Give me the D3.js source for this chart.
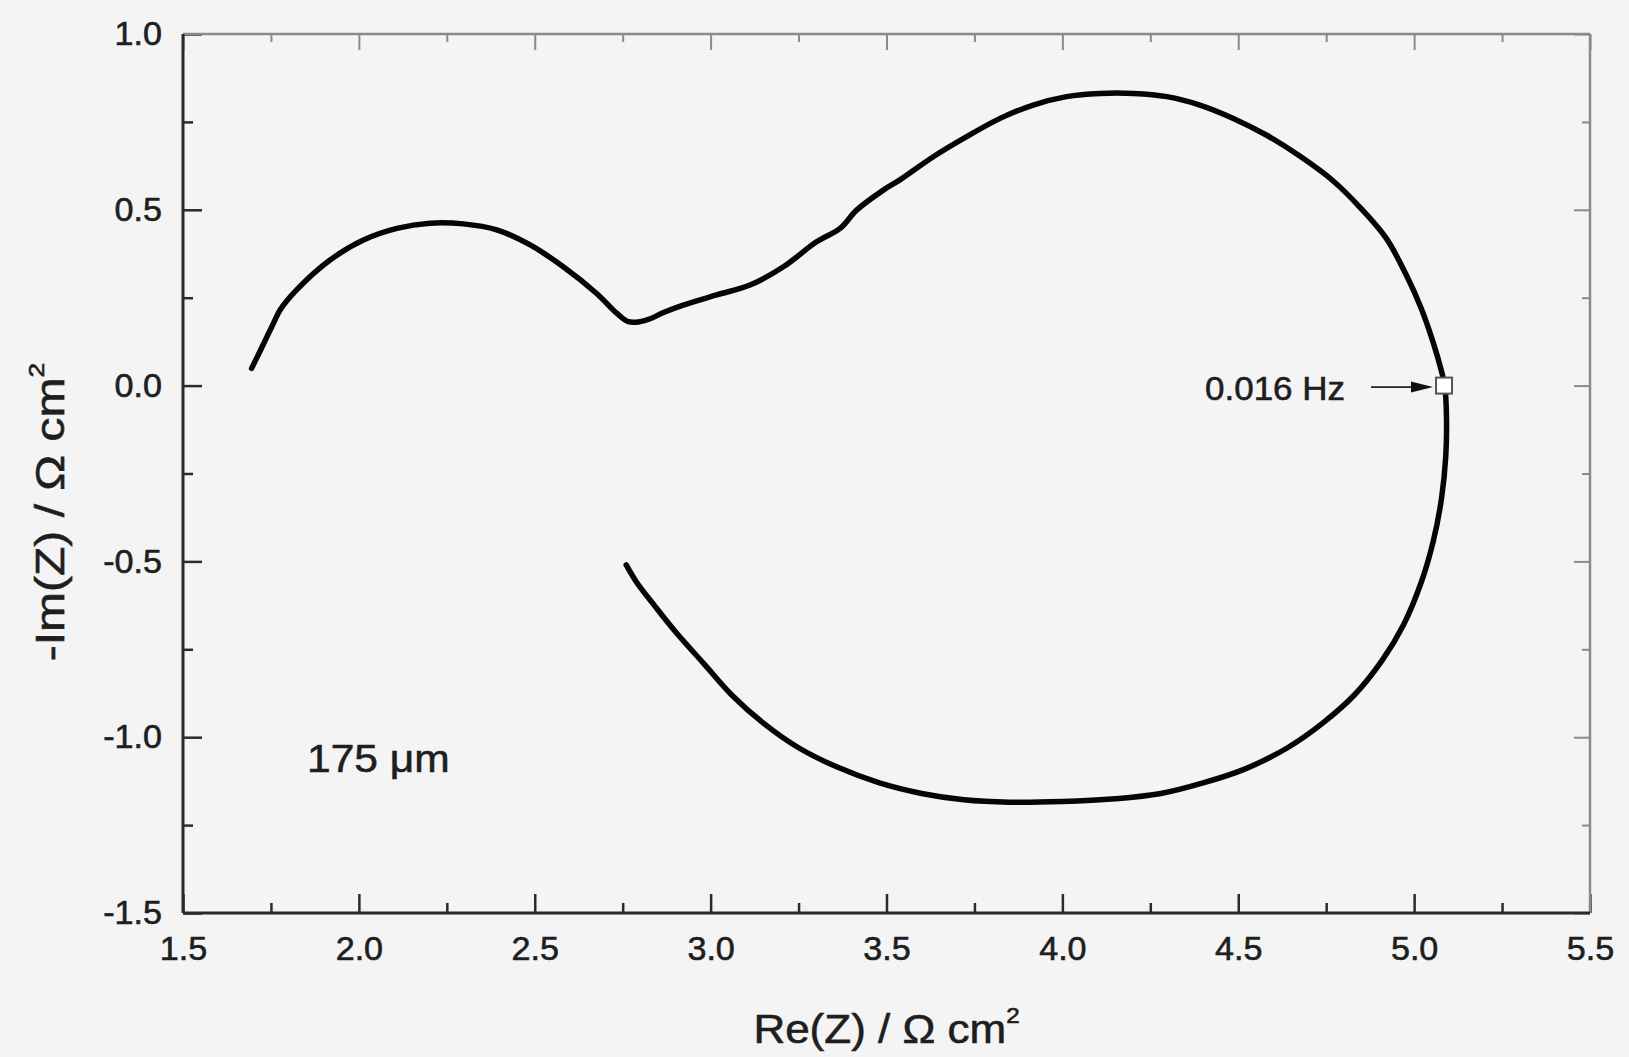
<!DOCTYPE html>
<html><head><meta charset="utf-8">
<script src="https://cdn.jsdelivr.net/npm/d3@7"></script>
<style>
html,body{margin:0;padding:0;background:#f4f4f4;}
svg{display:block;}
text{font-family:"Liberation Sans", Arial, Helvetica, sans-serif; fill:#1e1e1e;}
</style></head><body>
<svg id="chart" width="1629" height="1057"></svg>
<script>
// ---- data (Nyquist spectrum, 175 µm) ----
const reZ = [1.695,1.72,1.757,1.776,1.823,1.918,2.013,2.108,2.202,2.297,2.392,2.487,2.581,2.676,2.733,2.766,2.80,2.828,2.866,2.922,3.017,3.112,3.207,3.301,3.368,3.415,3.491,3.538,3.633,3.728,3.823,3.917,4.012,4.107,4.202,4.297,4.391,4.486,4.581,4.676,4.770,4.848,4.92,4.975,5.02,5.055,5.078,5.087,5.092,5.09,5.078,5.055,5.02,4.97,4.91,4.83,4.74,4.64,4.52,4.40,4.28,4.15,4.00,3.85,3.72,3.60,3.48,3.36,3.25,3.15,3.06,2.98,2.90,2.84,2.79,2.76];
const negImZ = [0.049,0.10,0.177,0.215,0.272,0.357,0.414,0.447,0.462,0.460,0.443,0.400,0.338,0.262,0.206,0.182,0.182,0.190,0.208,0.229,0.258,0.286,0.338,0.409,0.447,0.499,0.556,0.585,0.651,0.708,0.760,0.798,0.822,0.831,0.831,0.822,0.798,0.760,0.712,0.652,0.582,0.505,0.42,0.32,0.22,0.12,0.04,0.0,-0.09,-0.20,-0.32,-0.44,-0.56,-0.68,-0.78,-0.88,-0.96,-1.03,-1.09,-1.13,-1.16,-1.175,-1.183,-1.185,-1.178,-1.16,-1.13,-1.085,-1.03,-0.96,-0.88,-0.79,-0.70,-0.625,-0.56,-0.51];

const xMajor = [1.5,2.0,2.5,3.0,3.5,4.0,4.5,5.0,5.5];
const xMinor = [1.75,2.25,2.75,3.25,3.75,4.25,4.75,5.25];
const xTickLabels = ["1.5","2.0","2.5","3.0","3.5","4.0","4.5","5.0","5.5"];
const yMajor = [-1.5,-1.0,-0.5,0.0,0.5,1.0];
const yMinor = [-1.25,-0.75,-0.25,0.25,0.75];
const yTickLabels = ["-1.5","-1.0","-0.5","0.0","0.5","1.0"];

const markerRe = [5.085];
const markerIm = [0.0];
const markerLabel = "0.016 Hz";
const sampleLabel = "175 \u03BCm";
const xTitle = "Re(Z) / \u03A9 cm";
const yTitle = "-Im(Z) / \u03A9 cm";

// ---- layout ----
const W = 1629, H = 1057;
const L = 183, R = 1590, T = 34, B = 913;
const svg = d3.select("#chart");
svg.append("rect").attr("width",W).attr("height",H).attr("fill","#f4f4f4");

const x = d3.scaleLinear().domain([1.5,5.5]).range([L,R]);
const y = d3.scaleLinear().domain([-1.5,1.0]).range([B,T]);

const dark = "#2b2b2b", light = "#8a8a8a";
const tickFont = 32.5, tickSX = 1.05;
const txtCol = "#1e1e1e";

function styleAxis(g, col, w){
  g.select(".domain").remove();
  g.selectAll(".tick line").attr("stroke",col).attr("stroke-width",w);
}
function heavy(sel){ sel.attr("stroke",txtCol).attr("stroke-width",0.6); }

// bottom axis
const gb = svg.append("g").attr("transform",`translate(0,${B})`)
  .call(d3.axisBottom(x).tickValues(xMajor).tickSize(-19).tickPadding(24)
     .tickFormat((d,i)=>xTickLabels[i]));
styleAxis(gb, dark, 2.5);
gb.selectAll("text").attr("font-size",tickFont).attr("fill",txtCol)
  .attr("font-family","Liberation Sans, Arial, sans-serif")
  .attr("transform",`scale(${tickSX},1)`).call(heavy);
const gbm = svg.append("g").attr("transform",`translate(0,${B})`)
  .call(d3.axisBottom(x).tickValues(xMinor).tickSize(-10).tickFormat(""));
styleAxis(gbm, dark, 2.5);

// left axis
const gl = svg.append("g").attr("transform",`translate(${L},0)`)
  .call(d3.axisLeft(y).tickValues(yMajor).tickSize(-19).tickPadding(21/tickSX)
     .tickFormat(d=>yTickLabels[yMajor.indexOf(d)]));
styleAxis(gl, dark, 2.5);
gl.selectAll("text").attr("font-size",tickFont).attr("fill",txtCol)
  .attr("font-family","Liberation Sans, Arial, sans-serif")
  .attr("dy","0.33em")
  .attr("transform",`scale(${tickSX},1)`).call(heavy);
const glm = svg.append("g").attr("transform",`translate(${L},0)`)
  .call(d3.axisLeft(y).tickValues(yMinor).tickSize(-10).tickFormat(""));
styleAxis(glm, dark, 2.5);

// top axis (no labels)
const gt = svg.append("g").attr("transform",`translate(0,${T})`)
  .call(d3.axisTop(x).tickValues(xMajor).tickSize(-16).tickFormat(""));
styleAxis(gt, light, 2);
const gtm = svg.append("g").attr("transform",`translate(0,${T})`)
  .call(d3.axisTop(x).tickValues(xMinor).tickSize(-8).tickFormat(""));
styleAxis(gtm, light, 2);

// right axis (no labels)
const gr = svg.append("g").attr("transform",`translate(${R},0)`)
  .call(d3.axisRight(y).tickValues(yMajor).tickSize(-16).tickFormat(""));
styleAxis(gr, light, 2);
const grm = svg.append("g").attr("transform",`translate(${R},0)`)
  .call(d3.axisRight(y).tickValues(yMinor).tickSize(-8).tickFormat(""));
styleAxis(grm, light, 2);

// frame
svg.append("line").attr("x1",L).attr("x2",R).attr("y1",T).attr("y2",T).attr("stroke",light).attr("stroke-width",2.5);
svg.append("line").attr("x1",R).attr("x2",R).attr("y1",T).attr("y2",B).attr("stroke",light).attr("stroke-width",2.5);
svg.append("line").attr("x1",L).attr("x2",R).attr("y1",B).attr("y2",B).attr("stroke",dark).attr("stroke-width",3);
svg.append("line").attr("x1",L).attr("x2",L).attr("y1",T).attr("y2",B).attr("stroke",dark).attr("stroke-width",3);

// curve
const pts = reZ.map((d,i)=>[d,negImZ[i]]);
const line = d3.line().x(d=>x(d[0])).y(d=>y(d[1])).curve(d3.curveCatmullRom.alpha(0.5));
svg.append("path").datum(pts).attr("d",line)
  .attr("fill","none").attr("stroke","#050505").attr("stroke-width",5.5)
  .attr("stroke-linejoin","round").attr("stroke-linecap","round");

// marker square
const ms = 16;
svg.selectAll("rect.marker").data(markerRe).enter().append("rect").attr("class","marker")
  .attr("x",(d)=>x(d)-ms/2).attr("y",(d,i)=>y(markerIm[i])-ms/2)
  .attr("width",ms).attr("height",ms)
  .attr("fill","#ffffff").attr("stroke","#555").attr("stroke-width",2);

// arrow
const ay = y(markerIm[0]) + 1.5;
const tipX = x(markerRe[0]) - ms/2 - 3;
svg.append("line").attr("x1",tipX-62).attr("x2",tipX-18).attr("y1",ay).attr("y2",ay)
  .attr("stroke","#222").attr("stroke-width",1.6);
svg.append("path").attr("d",`M${tipX},${ay} L${tipX-22},${ay-5.5} L${tipX-22},${ay+5.5} Z`).attr("fill","#111");

// marker label
svg.append("text").attr("text-anchor","end").attr("font-size",33)
  .attr("transform",`translate(${tipX-88},${ay+13}) scale(1.06,1)`)
  .text(markerLabel).call(heavy);

// sample label
svg.append("text").attr("font-size",39)
  .attr("transform",`translate(307,772) scale(1.09,1)`)
  .text(sampleLabel).call(heavy);

// x title
const xt = svg.append("text").attr("text-anchor","middle").attr("font-size",40)
  .attr("transform",`translate(${(L+R)/2},1043) scale(1.1,1)`).call(heavy);
xt.append("tspan").text(xTitle);
xt.append("tspan").attr("font-size",22).attr("dy",-20).text("2");

// y title
const yt = svg.append("text").attr("text-anchor","middle").attr("font-size",40)
  .attr("transform",`translate(64,512) rotate(-90) scale(1.2,1)`).call(heavy);
yt.append("tspan").text(yTitle);
yt.append("tspan").attr("font-size",22).attr("dy",-20).text("2");
</script>
</body></html>
